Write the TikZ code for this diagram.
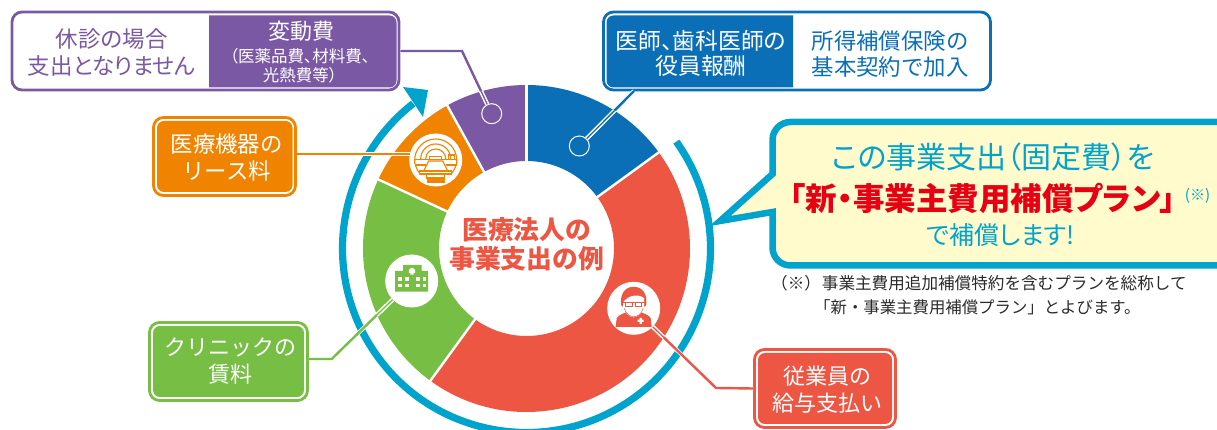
\documentclass[tikz,border=0pt]{standalone}
\usepackage{fontspec}
\setmainfont{Noto Sans CJK JP}
\newfontfamily\jpp[RawFeature=+palt]{Noto Sans CJK JP}
\newcommand{\fs}[2]{\fontsize{#1}{#2}\selectfont}
\definecolor{vio}{HTML}{7B58A3}
\definecolor{blu}{HTML}{0B6FB8}
\definecolor{rd}{HTML}{EC5642}
\definecolor{grn}{HTML}{77BE44}
\definecolor{org}{HTML}{F08300}
\definecolor{cya}{HTML}{00A3CC}
\definecolor{yel}{HTML}{FFFBCC}
\definecolor{dred}{HTML}{E60012}
\definecolor{ink}{HTML}{2A2A2A}
\tikzset{
  frame/.style={draw=#1,line width=2.8pt,fill=white,rounded corners=10pt,inner sep=0pt},
  txt/.style={inner sep=0pt,align=center,text=#1},
  slicegap/.style={draw=white,line width=2.4pt},
  hole/.style={circle,fill=white,minimum size=53pt,inner sep=0pt},
  ringdot/.style={circle,draw=white,line width=1pt,minimum size=20pt,inner sep=0pt},
}
\newcommand{\linkpath}[2]{%
  \draw[white,line width=4pt] #2;
  \draw[#1,line width=2.4pt] #2;
  \begin{scope}
    \clip (526.5,181.5) circle (163.5);
    \draw[white,line width=4pt] #2;
    \draw[#1,line width=1.3pt] #2;
  \end{scope}}
\newcommand{\slice}[3]{%
  \fill[#1] (#2:163.5) arc[start angle=#2,end angle=#3,radius=163.5] -- (#3:87.5) arc[start angle=#3,end angle=#2,radius=87.5] -- cycle;}
\begin{document}
\begin{tikzpicture}[x=1pt,y=1pt]
\useasboundingbox (0,0) rectangle (1217,430);
\clip (0,0) rectangle (1217,430);

% donut
\begin{scope}[shift={(526.5,181.5)}]
  \slice{blu}{36}{90}
  \slice{vio}{90}{119}
  \slice{org}{119}{155}
  \slice{grn}{155}{234}
  \slice{rd}{234}{396}
  \foreach \a in {36,90,119,155,234}{\draw[slicegap] (\a:86) -- (\a:165);}
  % ring with arrow
  \draw[cya,line width=7.2pt] (35.5:184) arc[start angle=35.5,end angle=-232,radius=184];
\end{scope}
\fill[cya] (403,430-87) -- (428,430-90) -- (423,430-117) -- cycle;

% callout
\draw[cya,line width=6.5pt,fill=yel,miter limit=10] (720,430-221) -- (772.5,430-174) [rounded corners=18pt] -- (772.5,430-122) -- (1240,430-122) -- (1240,430-265.5) -- (772.5,430-265.5) [sharp corners] -- (772.5,430-212) -- cycle;

% boxes
\node[frame=vio,minimum width=387pt,minimum height=78pt] (pbox) at (205.5,430-51) {};
\node[frame=blu,minimum width=387pt,minimum height=78pt] (bbox) at (797,430-51) {};
\node[frame=org,minimum width=142pt,minimum height=78pt] (obox) at (224.5,430-156.5) {};
\node[frame=grn,minimum width=158pt,minimum height=78pt] (gbox) at (228.5,430-361.5) {};
\node[frame=rd,minimum width=141pt,minimum height=78pt] (rbox) at (825,430-388.5) {};
\begin{scope}
  \clip (209,340) rectangle (400,420);
  \fill[vio,rounded corners=7pt] (180,430-15.5) rectangle (396.5,430-87.5);
\end{scope}
\begin{scope}
  \clip (600,340) rectangle (793,420);
  \fill[blu,rounded corners=7pt] (606.5,430-15.5) rectangle (820,430-87.5);
\end{scope}
\fill[org,rounded corners=7pt] (157,430-121) rectangle (292.5,430-192);
\fill[grn,rounded corners=7pt] (153,430-326) rectangle (304,430-397);
\fill[rd,rounded corners=7pt] (758,430-353) rectangle (892,430-424);

% icon circles and ring dots
\node[hole] (mri) at (435.7,430-160) {};
\node[hole] (hosp) at (411.7,430-281) {};
\node[hole] (staff) at (633.7,430-308.3) {};
\node[ringdot] (pdot) at (491.7,430-113.7) {};
\node[ringdot] (bdot) at (579.3,430-146) {};
\coordinate (obend) at (410,430-154);
\coordinate (gbend) at (331.7,430-359);
\coordinate (bstart) at (634,430-91);
\coordinate (pbend) at (462,430-51);
\coordinate (rbend) at (716,430-388);

% connectors
\linkpath{vio}{(pbox.east) -- (pbend) -- (pdot)}
\linkpath{blu}{(bstart) -- (bdot)}
\linkpath{org}{(obox.east |- obend) -- (obend)}
\linkpath{grn}{(gbox.east |- gbend) -- (gbend) -- (hosp)}
\linkpath{rd}{(rbox.west) -- (rbend) -- (staff)}

% MRI icon
\begin{scope}[shift={(mri.center)},org,line width=1.1pt]
  \draw (-21,-4) -- (-21,0) arc[start angle=180,end angle=0,radius=21] -- (21,-4);
  \draw (-15,1) arc[start angle=180,end angle=0,radius=15];
  \draw (-10,1) arc[start angle=180,end angle=0,radius=10];
  \draw (-6,3.5) rectangle (6,0.5);
  \draw (-21,0.5) -- (21,0.5);
  \draw (-21,-5) -- (-10,-5) (10,-5) -- (21,-5);
  \draw (13,0.5) rectangle (19,5);
  \draw (-20,-6) arc[start angle=197,end angle=222,radius=21];
  \draw (20,-6) arc[start angle=-17,end angle=-42,radius=21];
  \draw[fill=white] (-7,-1) -- (7,-1) -- (12,-11) -- (-12,-11) -- cycle;
  \draw[fill=white] (-16,-11) rectangle (16,-14);
  \draw (-9,-14) rectangle (9,-18);
  \fill (-9,-19.5) rectangle (9,-23);
\end{scope}

% hospital icon
\begin{scope}[shift={(hosp.center)}]
  \fill[grn] (-8.7,16) rectangle (10,10) (-16.7,10) rectangle (16.3,-10.7);
  \fill[white] (-1.4,13.2) rectangle (2,6.4) (-2.9,11.5) rectangle (3.5,8.1);
  \foreach \wx in {-11.7,-5,6,12.6}
    \foreach \wy in {2,-4.7}
      \fill[white] (\wx-1.8,\wy-1.8) rectangle (\wx+1.8,\wy+1.8);
\end{scope}

% staff icon
\begin{scope}[shift={(staff.center)}]
  \fill[rd] (-18,-18.5) -- (-17,-10) .. controls (-15,-6) and (-9,-5) .. (-5,-3) -- (0,-8) -- (5,-3) .. controls (9,-5) and (15,-6) .. (17,-10) -- (18,-18.5) -- cycle;
  \fill[rd] (-12.5,3) .. controls (-14,14) and (-9,21.5) .. (0,21.5) .. controls (9,21.5) and (14,14) .. (12.5,3) -- (10,1) -- (-10,1) -- cycle;
  \fill[white] (-10.5,6) .. controls (-6,13) and (5,15) .. (10.5,10) -- (10.5,1) .. controls (9,-5) and (4,-9) .. (0,-9) .. controls (-4,-9) and (-9,-5) .. (-10.5,1) -- cycle;
  \draw[rd,line width=.6pt] (-12,5.5) -- (12,5.5);
  \draw[rd,line width=.6pt] (-8,5.5) rectangle (-1.5,1.5) (1.5,5.5) rectangle (8,1.5);
  \draw[rd,line width=.5pt] (-9.5,0) .. controls (-8,-6) and (-3,-8.5) .. (0,-8.5) .. controls (3,-8.5) and (8,-6) .. (9.5,0);
  \fill[white] (5.8,-15.5) rectangle (8.2,-9.5) (4,-13.7) rectangle (10,-11.3);
\end{scope}

% texts
\node[txt=vio,font=\jpp\fs{22.5}{27}] (t1) at (111.7,430-53) {休診の場合\\支出となりません};
\node[txt=white,font=\fs{22}{27}] (t2) at (301,430-31) {変動費};
\node[txt=white,font=\jpp\fs{16.5}{19.5}] (t3) at (300,430-65.5) {（医薬品費、材料費、\\光熱費等）};
\node[txt=white,font=\jpp\fs{22.8}{25.5}] (t4) at (701,430-53.5) {医師、歯科医師の\\役員報酬};
\node[txt=blu,font=\fs{22.4}{25.5}] (t5) at (890,430-54) {所得補償保険の\\基本契約で加入};
\node[txt=white,font=\fs{22.4}{27.5}] (t6) at (226.7,430-157.5) {医療機器の\\リース料};
\node[txt=white,font=\fs{22}{27}] (t7) at (230.7,430-361.5) {クリニックの\\賃料};
\node[txt=white,font=\fs{22}{27}] (t8) at (827.3,430-390) {従業員の\\給与支払い};
\node[txt=rd,font=\bfseries\fs{25.8}{29}] (t9) at (526.7,430-244.5) {医療法人の\\事業支出の例};
\node[txt=cya,font=\jpp\fs{30}{34}] (t10) at (993.3,430-156.7) {この事業支出（固定費）を};
\node[txt=dred,font=\jpp\bfseries\fs{31.5}{34}] (t11) at (983,430-198.3) {「新・事業主費用補償プラン」};
\node[txt=cya,font=\fs{15}{15}] (t12) at (1197.5,430-196) {(※)};
\node[txt=cya,font=\jpp\fs{25}{28}] (t13) at (1000.7,430-235) {で補償します!};
\node[txt=ink,anchor=west,font=\fs{16.6}{20}] (t14) at (771,430-283.3) {（※）};
\node[txt=ink,anchor=west,font=\fs{16.6}{20}] (t15) at (821.7,430-283.3) {事業主費用追加補償特約を含むプランを総称して};
\node[txt=ink,anchor=west,font=\fs{16.4}{20}] (t16) at (814,430-307.7) {「新・事業主費用補償プラン」とよびます。};
\end{tikzpicture}
\end{document}
